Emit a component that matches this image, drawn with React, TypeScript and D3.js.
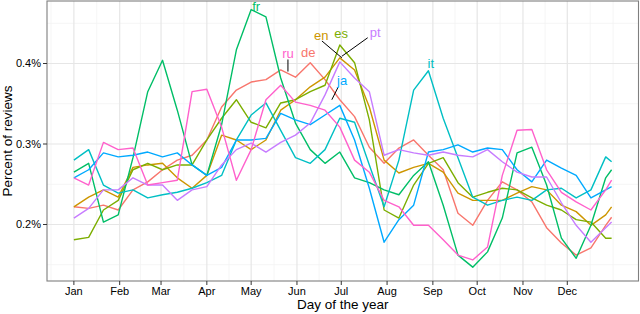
import React, { useRef, useEffect } from 'react';
import * as d3 from 'd3';

const days = [1, 11, 21, 31, 41, 51, 61, 71, 81, 91, 101, 111, 121, 131, 141, 151, 161, 171, 181,
  191, 201, 211, 221, 231, 241, 251, 261, 271, 281, 291, 301, 311, 321, 331, 341, 351, 361, 365];

// percent of reviews per language
const de = [0.222, 0.220, 0.224, 0.218, 0.243, 0.253, 0.268, 0.280, 0.286, 0.305, 0.346, 0.367, 0.377, 0.380,
  0.392, 0.383, 0.401, 0.380, 0.355, 0.334, 0.296, 0.276, 0.295, 0.305, 0.286, 0.268, 0.214, 0.199, 0.230,
  0.253, 0.243, 0.228, 0.196, 0.177, 0.162, 0.171, 0.199, 0.209];
const en = [0.222, 0.234, 0.243, 0.234, 0.271, 0.274, 0.276, 0.258, 0.245, 0.261, 0.311, 0.305, 0.293, 0.305,
  0.342, 0.355, 0.371, 0.383, 0.407, 0.392, 0.346, 0.280, 0.264, 0.271, 0.276, 0.265, 0.239, 0.230, 0.230,
  0.230, 0.239, 0.247, 0.243, 0.224, 0.216, 0.199, 0.212, 0.222];
const es = [0.181, 0.184, 0.218, 0.230, 0.268, 0.276, 0.268, 0.274, 0.274, 0.305, 0.332, 0.355, 0.327, 0.320,
  0.351, 0.355, 0.365, 0.373, 0.423, 0.401, 0.330, 0.218, 0.208, 0.249, 0.276, 0.283, 0.252, 0.234, 0.240,
  0.245, 0.243, 0.233, 0.224, 0.218, 0.206, 0.203, 0.183, 0.183];
const fr = [0.265, 0.276, 0.203, 0.212, 0.283, 0.365, 0.404, 0.342, 0.274, 0.261, 0.324, 0.417, 0.467, 0.458,
  0.382, 0.326, 0.293, 0.276, 0.290, 0.258, 0.252, 0.243, 0.237, 0.261, 0.278, 0.224, 0.162, 0.147, 0.166,
  0.208, 0.289, 0.296, 0.249, 0.183, 0.158, 0.199, 0.258, 0.268];
const it = [0.280, 0.293, 0.249, 0.239, 0.243, 0.233, 0.237, 0.240, 0.245, 0.252, 0.261, 0.305, 0.336, 0.351,
  0.317, 0.283, 0.276, 0.293, 0.332, 0.327, 0.274, 0.222, 0.280, 0.367, 0.391, 0.332, 0.283, 0.234, 0.224,
  0.230, 0.234, 0.230, 0.243, 0.245, 0.233, 0.243, 0.284, 0.278];
const ja = [0.258, 0.268, 0.289, 0.284, 0.286, 0.290, 0.284, 0.289, 0.274, 0.261, 0.271, 0.305, 0.305, 0.307,
  0.338, 0.330, 0.324, 0.336, 0.348, 0.305, 0.245, 0.178, 0.206, 0.224, 0.290, 0.293, 0.299, 0.290, 0.295,
  0.293, 0.268, 0.253, 0.280, 0.270, 0.261, 0.233, 0.243, 0.247];
const pt = [0.208, 0.220, 0.243, 0.243, 0.258, 0.249, 0.249, 0.230, 0.243, 0.247, 0.274, 0.293, 0.301, 0.290,
  0.302, 0.311, 0.326, 0.361, 0.402, 0.382, 0.365, 0.286, 0.293, 0.289, 0.286, 0.290, 0.286, 0.284, 0.293,
  0.278, 0.265, 0.259, 0.259, 0.227, 0.199, 0.178, 0.196, 0.203];
const ru = [0.258, 0.249, 0.302, 0.293, 0.295, 0.249, 0.252, 0.255, 0.365, 0.368, 0.321, 0.255, 0.293, 0.355,
  0.373, 0.352, 0.348, 0.342, 0.321, 0.280, 0.265, 0.230, 0.222, 0.199, 0.199, 0.181, 0.162, 0.156, 0.172,
  0.261, 0.317, 0.318, 0.268, 0.240, 0.228, 0.218, 0.243, 0.255];

const langs = ['de', 'en', 'es', 'fr', 'it', 'ja', 'pt', 'ru'];
const series = [de, en, es, fr, it, ja, pt, ru];
const colors = ['#F8766D', '#CD9600', '#7CAE00', '#00BE67', '#00BFC4', '#00A9FF', '#C77CFF', '#FF61CC'];

const monthLabels = ['Jan', 'Feb', 'Mar', 'Apr', 'May', 'Jun', 'Jul', 'Aug', 'Sep', 'Oct', 'Nov', 'Dec'];
const monthStarts = [1, 32, 60, 91, 121, 152, 182, 213, 244, 274, 305, 335];
const yTicks = [0.2, 0.3, 0.4];
const yMinor = [0.15, 0.25, 0.35, 0.45];

// direct labels: [day, value]
const labelNames = ['fr', 'ru', 'de', 'en', 'es', 'pt', 'it', 'ja'];
const labelDays = [124.4, 145.9, 159.6, 168.4, 181.9, 205.0, 242.6, 182.6];
const labelValues = [0.465, 0.407, 0.408, 0.429, 0.432, 0.433, 0.394, 0.373];
const leaderFrom = [[145.9, 0.405], [168.9, 0.428], [199.9, 0.432], [179.7, 0.370]];
const leaderTo = [[145.9, 0.390], [182.4, 0.407], [182.4, 0.409], [175.6, 0.355]];

const App = () => {
  const svgRef = useRef<SVGSVGElement>(null);

  useEffect(() => {
    const w = 640;
    const h = 314;
    const left = 47;
    const right = 638.5;
    const top = 1;
    const bottom = 281;
    const font = '"Liberation Sans", Arial, Helvetica, sans-serif';

    const svg = d3.select(svgRef.current).attr('width', w).attr('height', h);
    svg.selectAll('*').remove();

    const x = d3.scaleLinear().domain([1 - 18.2, 365 + 18.2]).range([left, right]);
    const y = d3.scaleLinear().domain([0.2, 0.4]).range([224.5, 63.5]);

    svg.append('rect').attr('width', w).attr('height', h).attr('fill', '#fff');

    // grid
    const xMinor: number[] = [];
    const ext = [-30, ...monthStarts, 366];
    for (let i = 0; i < ext.length - 1; i++) xMinor.push((ext[i] + ext[i + 1]) / 2);
    xMinor.push(366);

    const grid = svg.append('g');
    grid.selectAll('.ymin').data(yMinor).join('line')
      .attr('x1', left).attr('x2', right)
      .attr('y1', (d) => y(d)).attr('y2', (d) => y(d))
      .attr('stroke', '#F3F3F3').attr('stroke-width', 0.8);
    grid.selectAll('.xmin').data(xMinor).join('line')
      .attr('y1', top).attr('y2', bottom)
      .attr('x1', (d) => x(d)).attr('x2', (d) => x(d))
      .attr('stroke', '#F3F3F3').attr('stroke-width', 0.8);
    grid.selectAll('.ymaj').data(yTicks).join('line')
      .attr('x1', left).attr('x2', right)
      .attr('y1', (d) => y(d)).attr('y2', (d) => y(d))
      .attr('stroke', '#E6E6E6').attr('stroke-width', 1.2);
    grid.selectAll('.xmaj').data(monthStarts).join('line')
      .attr('y1', top).attr('y2', bottom)
      .attr('x1', (d) => x(d)).attr('x2', (d) => x(d))
      .attr('stroke', '#E6E6E6').attr('stroke-width', 1.2);

    // lines
    svg.append('clipPath').attr('id', 'panel-clip')
      .append('rect').attr('x', left).attr('y', top).attr('width', right - left).attr('height', bottom - top);

    const line = d3.line<number>()
      .x((d, i) => x(days[i]))
      .y((d) => y(d));

    svg.append('g').attr('clip-path', 'url(#panel-clip)')
      .selectAll('path').data(series).join('path')
      .attr('d', (d) => line(d))
      .attr('fill', 'none')
      .attr('stroke', (d, i) => colors[i])
      .attr('stroke-width', 1.4)
      .attr('stroke-linejoin', 'round');

    // leader lines and labels
    svg.append('g').selectAll('line').data(leaderFrom).join('line')
      .attr('x1', (d) => x(d[0])).attr('y1', (d) => y(d[1]))
      .attr('x2', (d, i) => x(leaderTo[i][0])).attr('y2', (d, i) => y(leaderTo[i][1]))
      .attr('stroke', '#000').attr('stroke-width', 1);

    svg.append('g').selectAll('text').data(labelNames).join('text')
      .text((d) => d)
      .attr('x', (d, i) => x(labelDays[i]))
      .attr('y', (d, i) => y(labelValues[i]))
      .attr('text-anchor', 'middle')
      .attr('fill', (d) => colors[langs.indexOf(d)])
      .style('font-family', font)
      .style('font-size', '13px');

    // panel border
    svg.append('rect')
      .attr('x', left).attr('y', top).attr('width', right - left).attr('height', bottom - top)
      .attr('fill', 'none').attr('stroke', '#7F7F7F').attr('stroke-width', 1.1);

    // y axis
    const yAxis = svg.append('g');
    yAxis.selectAll('line').data(yTicks).join('line')
      .attr('x1', left - 4).attr('x2', left)
      .attr('y1', (d) => y(d)).attr('y2', (d) => y(d))
      .attr('stroke', '#333').attr('stroke-width', 1);
    yAxis.selectAll('text').data(yTicks).join('text')
      .text((d) => d3.format('.1f')(d) + '%')
      .attr('x', left - 6)
      .attr('y', (d) => y(d))
      .attr('dy', '0.35em')
      .attr('text-anchor', 'end')
      .style('font-family', font)
      .style('font-size', '11px')
      .style('fill', '#000');

    // x axis
    const xAxis = svg.append('g');
    xAxis.selectAll('line').data(monthStarts).join('line')
      .attr('y1', bottom).attr('y2', bottom + 4)
      .attr('x1', (d) => x(d)).attr('x2', (d) => x(d))
      .attr('stroke', '#333').attr('stroke-width', 1);
    xAxis.selectAll('text').data(monthStarts).join('text')
      .text((d, i) => monthLabels[i])
      .attr('x', (d) => x(d))
      .attr('y', bottom + 14)
      .attr('text-anchor', 'middle')
      .style('font-family', font)
      .style('font-size', '11px')
      .style('fill', '#000');

    // titles
    svg.append('text')
      .text('Day of the year')
      .attr('x', (left + right) / 2)
      .attr('y', 309)
      .attr('text-anchor', 'middle')
      .style('font-family', font)
      .style('font-size', '13.5px');
    svg.append('text')
      .text('Percent of reviews')
      .attr('transform', `translate(12, ${(top + bottom) / 2}) rotate(-90)`)
      .attr('text-anchor', 'middle')
      .style('font-family', font)
      .style('font-size', '13.5px');
  }, []);

  return <svg ref={svgRef} style={{ position: 'absolute', left: 0, top: 0, display: 'block' }}></svg>;
};

export default App;
